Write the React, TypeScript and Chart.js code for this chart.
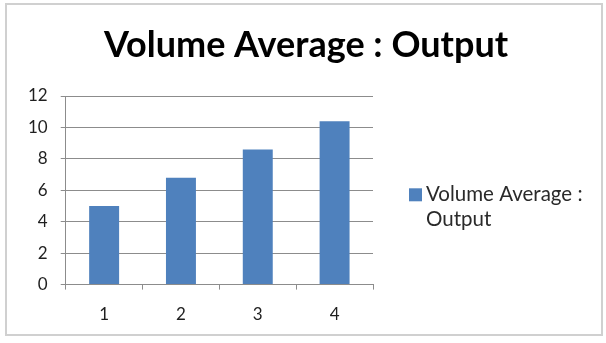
import React, { useEffect, useRef } from "react";
import { Chart, registerables } from "chart.js";

Chart.register(...registerables);

const categories = ["1", "2", "3", "4"];
const seriesName = ["Volume Average :", "Output"];
const titleText = "Volume Average : Output";
const volumeAverage = [5.0, 6.8, 8.6, 10.4];
const yTicks = [0, 2, 4, 6, 8, 10, 12];

const FONT = "Lato, 'Liberation Sans', sans-serif";
const GRID = "#8c8c8c";
const BAR = "#4f81bd";
const TEXT = "#1f1f1f";

// Title centred across the whole canvas, above the plot and the legend.
const wideTitle = {
  id: "wideTitle",
  afterDraw(chart: Chart) {
    const { ctx, width } = chart;
    ctx.save();
    ctx.fillStyle = "#000000";
    ctx.font = `bold 36px ${FONT}`;
    ctx.textAlign = "center";
    ctx.textBaseline = "alphabetic";
    ctx.fillText(titleText, width / 2 + 3, 57);
    ctx.restore();
  },
};

// Legend drawn beside the plot: one square swatch, the series name on two lines.
const sideLegend = {
  id: "sideLegend",
  afterDraw(chart: Chart) {
    const { ctx, chartArea } = chart;
    const mid = (chartArea.top + chartArea.bottom) / 2;
    const boxX = chartArea.right + 36;
    const boxY = mid - 2;
    const size = 13;
    ctx.save();
    ctx.fillStyle = BAR;
    ctx.fillRect(boxX, boxY, size, size);
    ctx.fillStyle = "#2a2a2a";
    ctx.font = `20.5px ${FONT}`;
    ctx.textAlign = "left";
    ctx.textBaseline = "middle";
    const lineH = 25;
    seriesName.forEach((line, i) => {
      ctx.fillText(line, boxX + size + 4, boxY + size / 2 + i * lineH);
    });
    ctx.restore();
  },
};

export default function App() {
  const ref = useRef<HTMLCanvasElement | null>(null);

  useEffect(() => {
    if (!ref.current) return;
    const chart = new Chart(ref.current, {
      type: "bar",
      data: {
        labels: categories,
        datasets: [
          {
            label: seriesName.join(" "),
            data: volumeAverage,
            backgroundColor: BAR,
            borderWidth: 0,
            barPercentage: 0.39,
            categoryPercentage: 1,
          },
        ],
      },
      options: {
        responsive: false,
        animation: false,
        layout: { padding: { left: 15, right: 233, top: 96, bottom: 3 } },
        plugins: {
          title: { display: false },
          legend: { display: false },
          tooltip: { enabled: false },
        },
        scales: {
          x: {
            grid: {
              display: true,
              drawOnChartArea: false,
              drawTicks: true,
              tickLength: 5,
              color: GRID,
              offset: true,
            },
            border: { display: true, color: GRID, width: 1 },
            ticks: {
              color: TEXT,
              font: { family: FONT, size: 17 },
              padding: 15,
            },
          },
          y: {
            min: 0,
            max: 12,
            afterBuildTicks: (axis) => {
              axis.ticks = yTicks.map((v) => ({ value: v }));
            },
            grid: {
              color: GRID,
              drawTicks: true,
              tickLength: 5,
              lineWidth: 1,
            },
            border: { display: true, color: GRID, width: 1 },
            ticks: {
              color: TEXT,
              font: { family: FONT, size: 17 },
              padding: 13,
            },
          },
        },
      },
      plugins: [wideTitle, sideLegend],
    });
    return () => chart.destroy();
  }, []);

  return (
    <div
      style={{
        position: "fixed",
        left: 0,
        top: 0,
        width: 606,
        height: 343,
        background: "#ffffff",
      }}
    >
      <div
        style={{
          position: "absolute",
          left: 5,
          top: 3,
          width: 594,
          height: 329,
          border: "2px solid #d0d0d0",
        }}
      />
      <canvas
        ref={ref}
        width={606}
        height={343}
        style={{ position: "absolute", left: 0, top: 0 }}
      />
    </div>
  );
}
